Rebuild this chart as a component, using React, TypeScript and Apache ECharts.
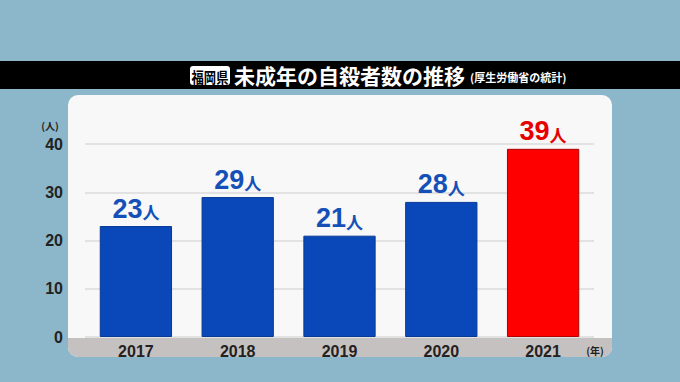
import React, { useEffect, useRef } from "react";
import * as echarts from "echarts";

const categories = ["2017", "2018", "2019", "2020", "2021"];
const values = [23, 29, 21, 28, 39];
const highlightIndex = 4;
const yTicks = [0, 10, 20, 30, 40];
const titleTag = "福岡県";
const titleMain = "未成年の自殺者数の推移";
const titleSub = "(厚生労働省の統計)";
const yUnit = "(人)";
const xUnit = "(年)";

const FONT = "'Noto Sans CJK JP', 'Liberation Sans', sans-serif";
const NUM = "'Liberation Sans', Arial, sans-serif";

export default function App() {
  const ref = useRef<HTMLDivElement>(null);
  useEffect(() => {
    document.body.style.margin = "0";
    const chart = echarts.init(ref.current!, undefined, { renderer: "svg" });
    const blue = "#0a47b8";
    const red = "#ff0000";
    chart.setOption({
      animation: false,
      backgroundColor: "#8cb7ca",
      graphic: [
        { type: "rect", z: 0, shape: { x: 0, y: 61, width: 680, height: 28 }, style: { fill: "#000" } },
        { type: "rect", z: 1, shape: { x: 190, y: 66, width: 40, height: 19, r: 3 }, style: { fill: "#fff" } },
        { type: "text", z: 2, x: 210, y: 76, scaleX: 0.82, style: { text: titleTag, fill: "#000", font: `bold 15px ${FONT}`, align: "center", verticalAlign: "middle" } },
        { type: "text", z: 2, x: 234, y: 75, style: { text: titleMain, fill: "#fff", font: `bold 21px ${FONT}`, align: "left", verticalAlign: "middle" } },
        { type: "text", z: 2, x: 470, y: 77, style: { text: titleSub, fill: "#fff", font: `bold 11px ${FONT}`, align: "left", verticalAlign: "middle" } },
        { type: "rect", z: 0, shape: { x: 68, y: 95, width: 544, height: 262, r: 10 }, style: { fill: "#f8f8f8" } },
        { type: "rect", z: 0, shape: { x: 68, y: 338, width: 544, height: 19, r: [0, 0, 10, 10] }, style: { fill: "#c5c1c1" } },
        { type: "text", z: 2, x: 50, y: 125, style: { text: yUnit, fill: "#222", font: `bold 10px ${FONT}`, align: "center", verticalAlign: "middle" } },
        { type: "text", z: 2, x: 595, y: 350, style: { text: xUnit, fill: "#222", font: `bold 10px ${FONT}`, align: "center", verticalAlign: "middle" } },
      ],
      grid: { left: 85, right: 86, top: 144, bottom: 382 - 337 },
      xAxis: {
        type: "category",
        data: categories,
        axisLine: { show: false },
        axisTick: { show: false },
        axisLabel: { color: "#222", fontFamily: NUM, fontWeight: "bold", fontSize: 16, margin: 6 },
      },
      yAxis: {
        type: "value",
        min: 0,
        max: yTicks[yTicks.length - 1],
        interval: 10,
        axisLine: { show: false },
        axisTick: { show: false },
        splitLine: { lineStyle: { color: "#e2e2e2", width: 2 } },
        axisLabel: { color: "#222", fontFamily: NUM, fontWeight: "bold", fontSize: 16, margin: 22 },
      },
      series: [
        {
          type: "bar",
          barWidth: "71%",
          data: values.map((v, i) => ({
            value: v,
            itemStyle: {
              color: i === highlightIndex ? red : blue,
              borderColor: i === highlightIndex ? "#b00000" : "#073a96",
              borderWidth: 1,
            },
            label: {
              show: true,
              position: "top",
              distance: 4,
              formatter: "{a|{c}}{b|人}",
              rich: {
                a: { fontFamily: NUM, fontWeight: "bold", fontSize: 27, color: i === highlightIndex ? "#e60000" : "#1450b8" },
                b: { fontFamily: FONT, fontWeight: "bold", fontSize: 17, color: i === highlightIndex ? "#e60000" : "#1450b8", padding: [6, 0, 0, 0] },
              },
            },
          })),
        },
      ],
    });
    return () => chart.dispose();
  }, []);
  return <div ref={ref} style={{ width: 680, height: 382 }} />;
}
